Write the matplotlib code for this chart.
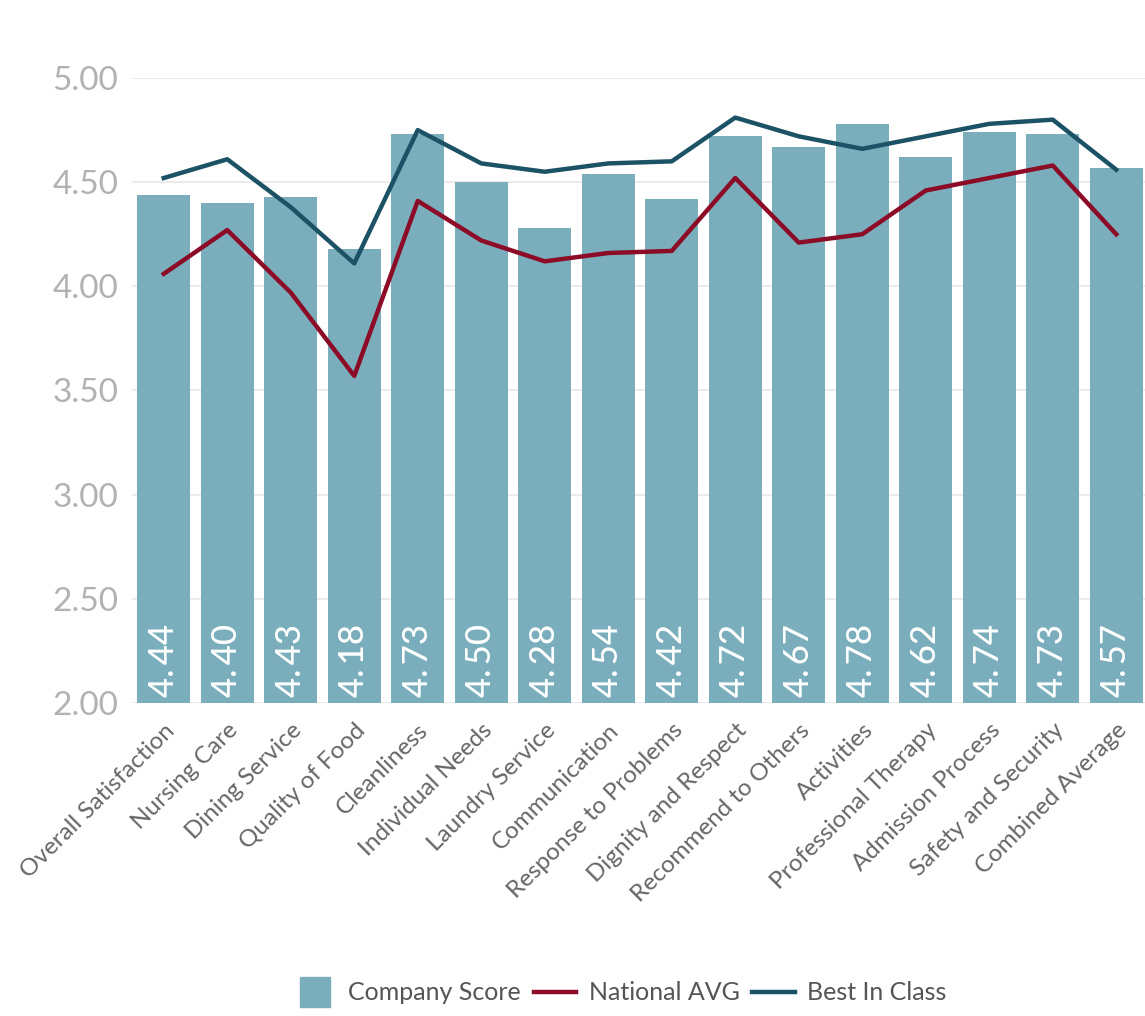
import numpy as np
import matplotlib; matplotlib.use('Agg')
import matplotlib.pyplot as plt
from matplotlib.lines import Line2D

plt.rcParams['font.family'] = ['Lato', 'DejaVu Sans']

categories = ['Overall Satisfaction', 'Nursing Care', 'Dining Service', 'Quality of Food',
              'Cleanliness', 'Individual Needs', 'Laundry Service', 'Communication',
              'Response to Problems', 'Dignity and Respect', 'Recommend to Others',
              'Activities', 'Professional Therapy', 'Admission Process',
              'Safety and Security', 'Combined Average']
company = [4.44, 4.40, 4.43, 4.18, 4.73, 4.50, 4.28, 4.54, 4.42, 4.72, 4.67, 4.78, 4.62, 4.74, 4.73, 4.57]
national = [4.06, 4.27, 3.97, 3.57, 4.41, 4.22, 4.12, 4.16, 4.17, 4.52, 4.21, 4.25, 4.46, 4.52, 4.58, 4.25]
best = [4.52, 4.61, 4.38, 4.11, 4.75, 4.59, 4.55, 4.59, 4.60, 4.81, 4.72, 4.66, 4.72, 4.78, 4.80, 4.56]
yticks = [2.0, 2.5, 3.0, 3.5, 4.0, 4.5, 5.0]

BAR = '#7aaebc'; RED = '#8c0c27'; TEAL = '#1c5265'
W, H = 1145, 1016
fig = plt.figure(figsize=(W/100, H/100), dpi=100)
ax = fig.add_axes([132/W, 313/H, 1016/W, 625/H])
x = np.arange(len(categories))
ax.bar(x, [c-2 for c in company], bottom=2, width=0.83, color=BAR, zorder=2)
ax.plot(x, national, color=RED, lw=3.2, zorder=3)
ax.plot(x, best, color=TEAL, lw=3.2, zorder=3)
for xi, v in zip(x, company):
    ax.text(xi, 2.03, f"{v:.2f}".replace('.', '.\u2009'), rotation=90, ha='center', va='bottom',
            color='white', fontsize=25, fontweight='medium', zorder=4)
ax.set_xlim(-0.5, len(categories)-0.5); ax.set_ylim(2, 5)
ax.set_yticks(yticks)
ax.set_yticklabels([f"{t:.2f}" for t in yticks], color='#b2b2b2', fontsize=24)
ax.set_xticks(x)
ax.set_xticklabels(categories, rotation=45, ha='right', rotation_mode='anchor', color='#666666', fontsize=17.5)
ax.tick_params(length=0, pad=10)
ax.tick_params(axis='x', pad=12)
ax.grid(axis='y', color='#e8e8e8', lw=1.2, zorder=0)
for s in ax.spines.values(): s.set_visible(False)
handles = [Line2D([], [], ls='none', marker='s', markersize=22, color=BAR),
           Line2D([], [], color=RED, lw=3.2), Line2D([], [], color=TEAL, lw=3.2)]
fig.legend(handles, ['Company Score', 'National AVG', 'Best In Class'], loc='center',
           bbox_to_anchor=(620/W, 1-993/H), ncol=3, frameon=False, fontsize=18,
           labelcolor='#555555', handlelength=1.7, handletextpad=0.5, columnspacing=0.5)
fig.savefig('out.png', dpi=100)
